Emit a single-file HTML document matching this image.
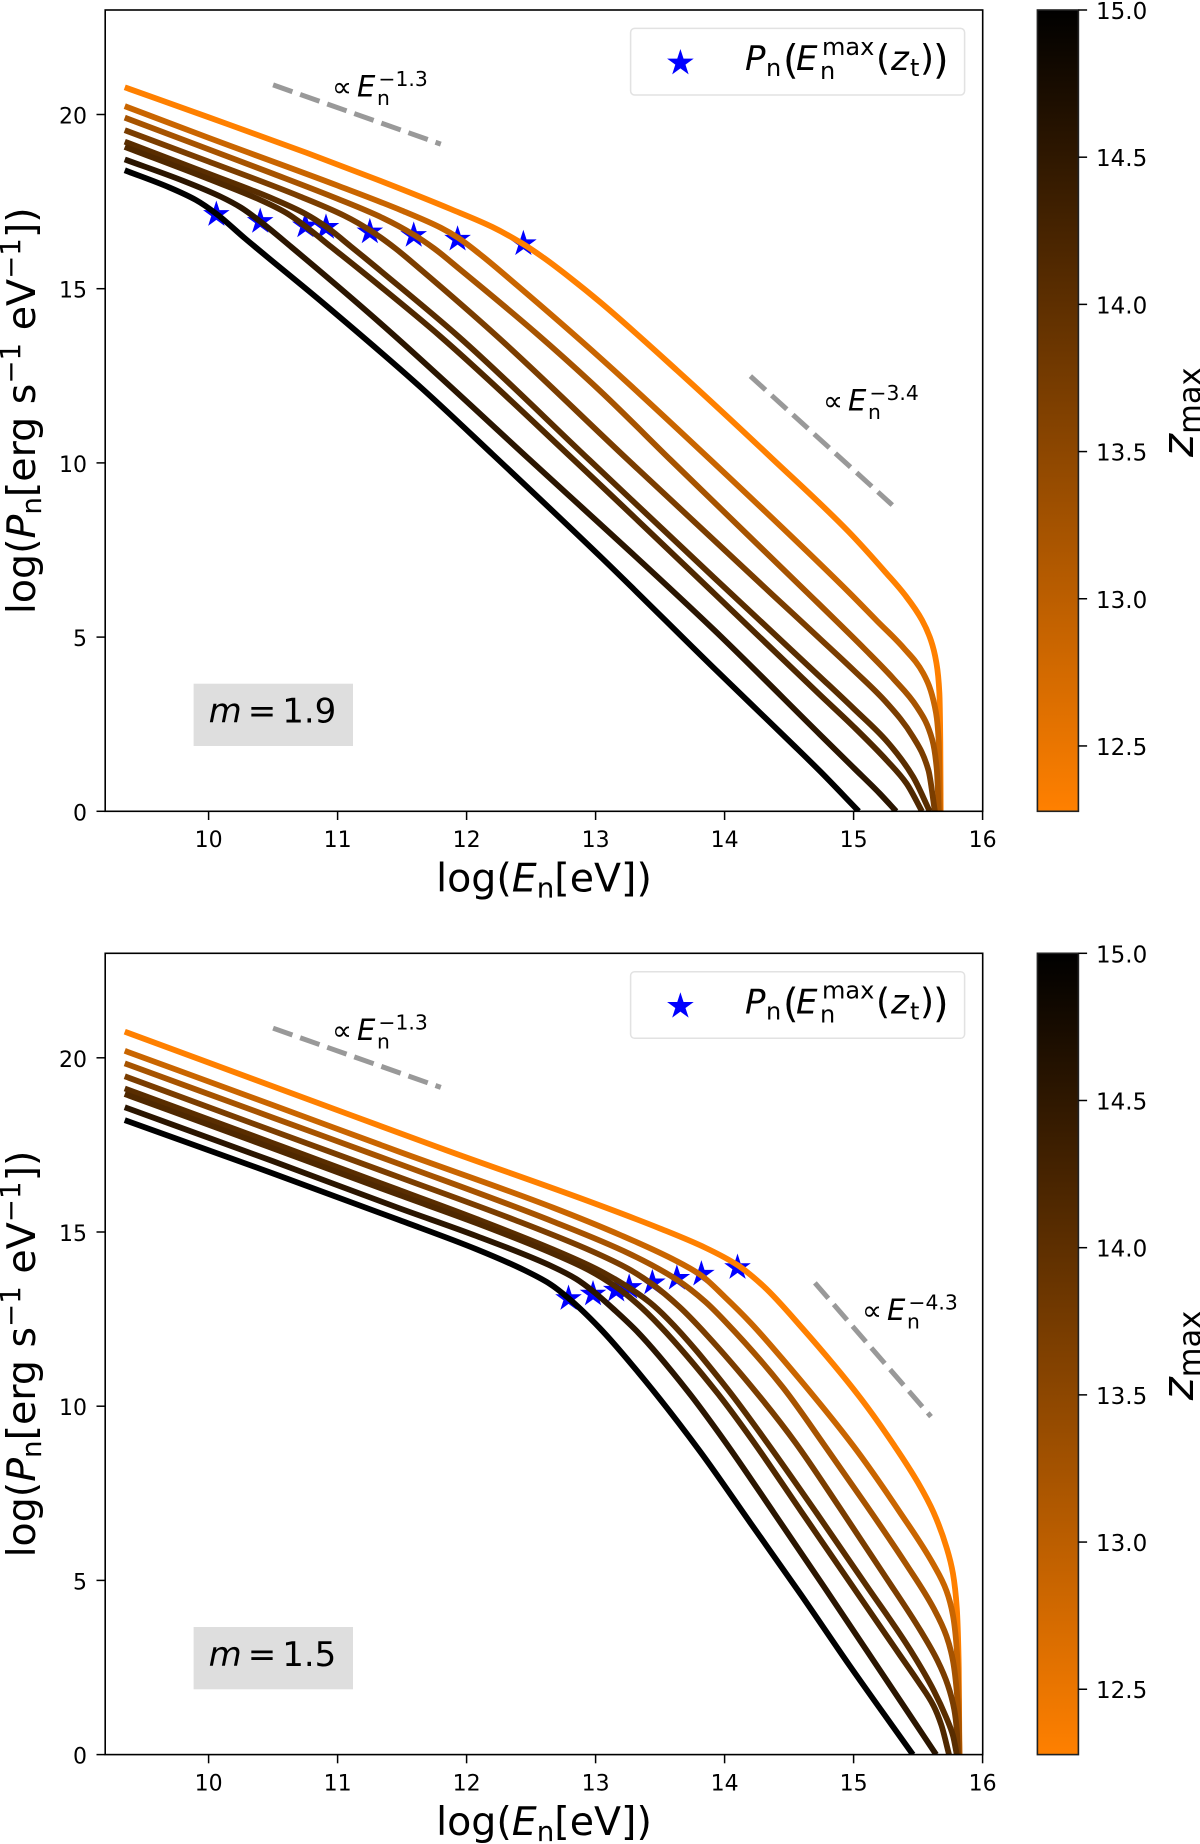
<!DOCTYPE html>
<html lang="en">
<head>
<meta charset="utf-8">
<title>Neutron power spectra for m = 1.9 and m = 1.5</title>
<style>
html,body{margin:0;padding:0;background:#fff;}
svg{display:block;}
text{font-family:"DejaVu Sans","Liberation Sans",sans-serif;fill:#000;}
.it{font-style:italic;}
</style>
</head>
<body>
<svg id="figure" xmlns="http://www.w3.org/2000/svg" width="1200" height="1844" viewBox="0 0 1200 1844">
  <defs>
    <linearGradient id="cbGradient" x1="0" y1="0" x2="0" y2="1">
      <stop offset="0" stop-color="#000000"/>
      <stop offset="1" stop-color="#ff8000"/>
    </linearGradient>
    <clipPath id="axesClip"><rect x="105.2" y="10" width="877.5" height="801.3"/></clipPath>
    <clipPath id="axesClip2"><rect x="105.2" y="953.3" width="877.5" height="801.3"/></clipPath>
  </defs>
  <rect width="1200" height="1844" fill="#fff"/>

  <g id="panelTop">
    <rect x="193.6" y="683.7" width="159.4" height="62.3" fill="#dedede"/>
    <text x="208.6" y="722.7" font-size="34"><tspan class="it">m</tspan><tspan dx="6">=</tspan><tspan dx="6">1.9</tspan></text>
    <text font-size="28"><tspan x="332" y="96.5">∝</tspan><tspan class="it" x="357" y="96.7" font-size="29">E</tspan><tspan x="378.5" y="86" font-size="20.3">−1.3</tspan><tspan x="377" y="105" font-size="20.3">n</tspan></text>
    <text font-size="28"><tspan x="823" y="410.5">∝</tspan><tspan class="it" x="848" y="410.7" font-size="29">E</tspan><tspan x="869.5" y="400" font-size="20.3">−3.4</tspan><tspan x="868" y="419" font-size="20.3">n</tspan></text>
    <text x="544" y="891.7" font-size="39.5" text-anchor="middle">log(<tspan class="it">E</tspan><tspan font-size="27.7" dy="6">n</tspan><tspan dy="-6">[eV])</tspan></text>
    <text transform="translate(35,410.7) rotate(-90)" font-size="39.5" text-anchor="middle">log(<tspan class="it">P</tspan><tspan font-size="27.7" dy="6">n</tspan><tspan dy="-6">[erg s</tspan><tspan font-size="27.7" dy="-15">−1</tspan><tspan dy="15"> eV</tspan><tspan font-size="27.7" dy="-15">−1</tspan><tspan dy="15">])</tspan></text>
    <text transform="translate(1193,457) rotate(-90)" font-size="44"><tspan class="it">z</tspan><tspan font-size="30.5" dy="7">max</tspan></text>
    <rect x="630.6" y="28.4" width="334" height="66.6" rx="4" ry="4" fill="#fff" stroke="#e2e2e2" stroke-width="1.5"/>
    <text font-size="34"><tspan class="it" x="745" y="70">P</tspan><tspan x="766" y="76" font-size="24">n</tspan><tspan x="783" y="73.5" font-size="40">(</tspan><tspan class="it" x="796" y="70">E</tspan><tspan x="822" y="55" font-size="24">max</tspan><tspan x="820" y="79" font-size="24">n</tspan><tspan x="876" y="70" font-size="36">(</tspan><tspan class="it" x="891" y="70">z</tspan><tspan x="910" y="76" font-size="24">t</tspan><tspan x="920" y="70" font-size="36">)</tspan><tspan x="933" y="73.5" font-size="40">)</tspan></text>
  </g>

  <g id="panelBottom">
    <g transform="translate(0,943.3)">
      <rect x="193.6" y="683.7" width="159.4" height="62.3" fill="#dedede"/>
      <text x="208.6" y="722.7" font-size="34"><tspan class="it">m</tspan><tspan dx="6">=</tspan><tspan dx="6">1.5</tspan></text>
      <text font-size="28"><tspan x="332" y="96.5">∝</tspan><tspan class="it" x="357" y="96.7" font-size="29">E</tspan><tspan x="378.5" y="86" font-size="20.3">−1.3</tspan><tspan x="377" y="105" font-size="20.3">n</tspan></text>
      <text font-size="28"><tspan x="862" y="376.5">∝</tspan><tspan class="it" x="887" y="376.7" font-size="29">E</tspan><tspan x="908.5" y="366" font-size="20.3">−4.3</tspan><tspan x="907" y="385" font-size="20.3">n</tspan></text>
      <text x="544" y="891.7" font-size="39.5" text-anchor="middle">log(<tspan class="it">E</tspan><tspan font-size="27.7" dy="6">n</tspan><tspan dy="-6">[eV])</tspan></text>
      <text transform="translate(35,410.7) rotate(-90)" font-size="39.5" text-anchor="middle">log(<tspan class="it">P</tspan><tspan font-size="27.7" dy="6">n</tspan><tspan dy="-6">[erg s</tspan><tspan font-size="27.7" dy="-15">−1</tspan><tspan dy="15"> eV</tspan><tspan font-size="27.7" dy="-15">−1</tspan><tspan dy="15">])</tspan></text>
      <text transform="translate(1193,457) rotate(-90)" font-size="44"><tspan class="it">z</tspan><tspan font-size="30.5" dy="7">max</tspan></text>
      <rect x="630.6" y="28.4" width="334" height="66.6" rx="4" ry="4" fill="#fff" stroke="#e2e2e2" stroke-width="1.5"/>
      <text font-size="34"><tspan class="it" x="745" y="70">P</tspan><tspan x="766" y="76" font-size="24">n</tspan><tspan x="783" y="73.5" font-size="40">(</tspan><tspan class="it" x="796" y="70">E</tspan><tspan x="822" y="55" font-size="24">max</tspan><tspan x="820" y="79" font-size="24">n</tspan><tspan x="876" y="70" font-size="36">(</tspan><tspan class="it" x="891" y="70">z</tspan><tspan x="910" y="76" font-size="24">t</tspan><tspan x="920" y="70" font-size="36">)</tspan><tspan x="933" y="73.5" font-size="40">)</tspan></text>
    </g>
  </g>
</svg>

<script>
// ---------- shared tick data ----------
const xTickValues = [10, 11, 12, 13, 14, 15, 16];
const xTickLabels = ["10", "11", "12", "13", "14", "15", "16"];
const yTickValues = [0, 5, 10, 15, 20];
const yTickLabels = ["0", "5", "10", "15", "20"];
const colorbarTickValues = [12.5, 13.0, 13.5, 14.0, 14.5, 15.0];
const colorbarTickLabels = ["12.5", "13.0", "13.5", "14.0", "14.5", "15.0"];
const zMaxValues = [12.28, 12.85, 13.23, 13.7, 14.05, 14.16, 14.55, 15.0];

// ---------- m = 1.9 series: [log E, log P] ----------
const m19Curve1 = [[9.35,20.78],[10,19.92],[10.76,18.9],[11.3,18.14],[11.88,17.28],[12.2,16.77],[12.43,16.3],[12.6,15.88],[12.8,15.32],[13.04,14.6],[13.63,12.66],[14.37,10.12],[14.96,8.03],[15.25,6.85],[15.4,6.2],[15.53,5.49],[15.6,4.9],[15.64,4.3],[15.665,3.4],[15.672,2.0],[15.675,0]];
const m19Curve2 = [[9.35,20.24],[10,19.33],[11,17.96],[11.5,17.24],[11.8,16.75],[11.93,16.47],[12.1,16.0],[12.39,15.1],[13.04,13.0],[13.89,10.09],[14.96,6.3],[15.18,5.47],[15.39,4.68],[15.54,3.96],[15.63,3.0],[15.66,2.0],[15.67,0]];
const m19Curve3 = [[9.35,19.91],[10,19.0],[10.5,18.3],[11,17.58],[11.35,17.03],[11.59,16.55],[11.75,16.15],[11.94,15.58],[12.54,13.72],[13.04,12.05],[13.58,10.09],[14.69,6.1],[14.87,5.45],[15.08,4.68],[15.31,3.8],[15.49,3.0],[15.61,2.05],[15.645,1.2],[15.66,0]];
const m19Curve4 = [[9.35,19.55],[10,18.65],[10.7,17.66],[11.05,17.1],[11.25,16.68],[11.45,16.15],[11.65,15.53],[12.24,13.62],[13.25,10.09],[14.37,6.22],[14.74,4.95],[15.0,4.05],[15.26,3.1],[15.46,2.14],[15.58,1.18],[15.63,0]];
const m19Curve5 = [[9.35,19.22],[10,18.3],[10.5,17.58],[10.75,17.15],[10.91,16.78],[11.1,16.22],[11.35,15.46],[11.94,13.62],[12.95,10.09],[13.92,6.7],[14.74,3.86],[15.0,2.95],[15.26,2.0],[15.46,1.0],[15.59,0]];
const m19Curve6 = [[9.35,19.07],[10,18.15],[10.4,17.55],[10.6,17.18],[10.74,16.82],[10.95,16.2],[11.17,15.55],[11.8,13.62],[12.83,10.09],[13.92,6.25],[14.74,3.34],[15.0,2.43],[15.26,1.45],[15.41,0.8],[15.53,0]];
const m19Curve7 = [[9.35,18.71],[9.8,18.1],[10.1,17.63],[10.25,17.33],[10.4,16.93],[10.64,16.2],[11.35,13.95],[12.49,10.09],[13.92,5.2],[14.74,2.2],[15.0,1.25],[15.2,0.52],[15.33,0]];
const m19Curve8 = [[9.35,18.4],[9.7,17.9],[9.9,17.55],[10.06,17.15],[10.28,16.45],[10.9,14.55],[11.65,12.15],[12.2,10.25],[13.04,7.3],[13.92,4.1],[14.52,1.95],[14.74,1.15],[15.04,0]];
const m19Curves = [m19Curve1, m19Curve2, m19Curve3, m19Curve4, m19Curve5, m19Curve6, m19Curve7, m19Curve8];
const m19StarE = [10.06, 10.4, 10.75, 10.91, 11.25, 11.59, 11.93, 12.44];
const m19StarP = [17.13, 16.93, 16.8, 16.76, 16.63, 16.53, 16.42, 16.29];
const m19SlopeLowE = [10.5, 11.8];
const m19SlopeLowP = [20.85, 19.15];
const m19SlopeHighE = [14.2, 15.3];
const m19SlopeHighP = [12.49, 8.79];

// ---------- m = 1.5 series ----------
const m15Curve1 = [[9.35,20.75],[11.07,18.4],[11.84,17.35],[12.97,15.85],[13.5,15.1],[13.85,14.55],[14.1,14.05],[14.3,13.45],[14.6,12.25],[15.05,10.25],[15.31,8.9],[15.5,7.8],[15.62,6.95],[15.72,5.95],[15.77,5.2],[15.8,4.2],[15.815,2.5],[15.82,0]];
const m15Curve2 = [[9.35,20.2],[10.5,18.64],[11.48,17.3],[12.67,15.7],[13.2,14.9],[13.62,14.18],[13.82,13.75],[14.0,13.14],[14.2,12.4],[14.45,11.35],[15.0,8.85],[15.36,6.95],[15.62,5.45],[15.72,4.7],[15.77,4.0],[15.8,3.0],[15.815,1.5],[15.82,0]];
const m15Curve3 = [[9.35,19.84],[10.5,18.28],[11.48,16.95],[12.67,15.3],[13.26,14.38],[13.63,13.63],[13.85,13.0],[14.0,12.45],[14.45,10.55],[14.77,8.9],[15.1,7.15],[15.41,5.45],[15.62,4.2],[15.72,3.4],[15.77,2.7],[15.8,1.8],[15.815,0.9],[15.82,0]];
const m15Curve4 = [[9.35,19.47],[10.5,17.9],[11.48,16.57],[12.37,15.35],[12.97,14.45],[13.25,13.95],[13.44,13.5],[13.65,12.85],[13.86,12.05],[14.3,10.15],[14.55,8.95],[14.89,7.1],[15.23,5.2],[15.52,3.55],[15.65,2.7],[15.73,2.0],[15.78,1.3],[15.8,0.7],[15.81,0]];
const m15Curve5 = [[9.35,19.12],[10.5,17.55],[11.48,16.2],[12.08,15.37],[12.67,14.5],[13.0,13.95],[13.26,13.4],[13.42,12.98],[13.56,12.5],[14.01,10.55],[14.33,8.95],[14.71,6.95],[15.1,4.85],[15.44,3.0],[15.62,1.85],[15.72,1.05],[15.77,0.55],[15.8,0]];
const m15Curve6 = [[9.35,18.96],[10.5,17.4],[11.48,16.06],[12.08,15.25],[12.67,14.38],[12.95,13.9],[13.16,13.42],[13.32,12.95],[13.5,12.3],[13.95,10.35],[14.21,9.05],[14.59,7.0],[14.97,4.95],[15.36,2.85],[15.5,2.1],[15.62,1.4],[15.68,0.85],[15.74,0]];
const m15Curve7 = [[9.35,18.58],[10.5,17.03],[11.48,15.68],[12.08,14.88],[12.67,14.0],[12.85,13.65],[12.98,13.3],[13.15,12.75],[13.32,12.15],[13.71,10.45],[14.0,9.0],[14.38,6.95],[14.77,4.82],[15.15,2.72],[15.46,1.0],[15.64,0]];
const m15Curve8 = [[9.35,18.21],[10.5,16.68],[11.48,15.34],[12.08,14.5],[12.45,13.9],[12.65,13.5],[12.79,13.1],[13.03,12.25],[13.38,10.75],[13.81,8.7],[14.2,6.65],[14.59,4.6],[14.97,2.55],[15.46,0]];
const m15Curves = [m15Curve1, m15Curve2, m15Curve3, m15Curve4, m15Curve5, m15Curve6, m15Curve7, m15Curve8];
const m15StarE = [12.79, 12.98, 13.16, 13.26, 13.44, 13.63, 13.82, 14.1];
const m15StarP = [13.09, 13.22, 13.33, 13.41, 13.54, 13.67, 13.79, 13.98];
const m15SlopeLowE = [10.5, 11.8];
const m15SlopeLowP = [20.85, 19.15];
const m15SlopeHighE = [14.7, 15.6];
const m15SlopeHighP = [13.54, 9.7];

// ---------- axis functions ----------
const NS = "http://www.w3.org/2000/svg";
const AXIS_LEFT = 105.2, AXIS_RIGHT = 982.7;
const CB_LEFT = 1037.4, CB_RIGHT = 1078.4;
const CB_MIN = 12.278, CB_MAX = 15.0;
function xScale(v) { return 208.6 + (v - 10) * 129; }
function yScale(v, bottom) { return bottom - v * 34.84; }
function cbScale(v, top) { return top + (CB_MAX - v) * (801.3 / (CB_MAX - CB_MIN)); }
function zColor(z) {
  const f = (CB_MAX - z) / (CB_MAX - CB_MIN);
  return "rgb(" + Math.round(255 * f) + "," + Math.round(128 * f) + ",0)";
}
function shape(tag, attrs) {
  const el = document.createElementNS(NS, tag);
  for (const k in attrs) el.setAttribute(k, attrs[k]);
  return el;
}
function smoothPath(pts) {
  const n = pts.length, sec = [], t = [];
  for (let i = 0; i < n - 1; i++) sec.push((pts[i + 1][1] - pts[i][1]) / (pts[i + 1][0] - pts[i][0]));
  t[0] = sec[0];
  t[n - 1] = sec[n - 2];
  for (let i = 1; i < n - 1; i++) {
    const h0 = pts[i][0] - pts[i - 1][0], h1 = pts[i + 1][0] - pts[i][0];
    t[i] = (h0 + h1) / ((h0 + 2 * h1) / (3 * sec[i - 1]) + (2 * h0 + h1) / (3 * sec[i]));
  }
  let d = "M" + pts[0][0].toFixed(2) + " " + pts[0][1].toFixed(2);
  for (let i = 0; i < n - 1; i++) {
    const h = (pts[i + 1][0] - pts[i][0]) / 3;
    d += "C" + (pts[i][0] + h).toFixed(2) + " " + (pts[i][1] + t[i] * h).toFixed(2) + " " +
      (pts[i + 1][0] - h).toFixed(2) + " " + (pts[i + 1][1] - t[i + 1] * h).toFixed(2) + " " +
      pts[i + 1][0].toFixed(2) + " " + pts[i + 1][1].toFixed(2);
  }
  return d;
}
function starPoints(cx, cy, R) {
  const out = [], r = R * 0.381966;
  for (let i = 0; i < 10; i++) {
    const a = -Math.PI / 2 + i * Math.PI / 5, q = i % 2 ? r : R;
    out.push((cx + q * Math.cos(a)).toFixed(2) + "," + (cy + q * Math.sin(a)).toFixed(2));
  }
  return out.join(" ");
}

function drawPanel(cfg) {
  const root = document.getElementById(cfg.groupId);
  const top = cfg.top, bottom = cfg.top + 801.3;

  // stars sit underneath the curves
  cfg.starE.forEach(function (e, i) {
    const star = shape("polygon", { points: starPoints(xScale(e), yScale(cfg.starP[i], bottom), 14), fill: "#0000ff" });
    
    
    root.appendChild(star);
  });

  // spectra, orange first and black last
  const curveGroup = shape("g", { "clip-path": "url(#" + cfg.clipId + ")" });
  
  
  root.appendChild(curveGroup);
  cfg.curves.forEach(function (curve, i) {
    const pts = curve.map(function (p) { return [xScale(p[0]), yScale(p[1], bottom)]; });
    const path = shape("path", { d: smoothPath(pts), fill: "none", stroke: zColor(zMaxValues[i]), "stroke-width": 5.8 });
    
    
    curveGroup.appendChild(path);
  });

  // reference slopes
  [[cfg.slopeLowE, cfg.slopeLowP], [cfg.slopeHighE, cfg.slopeHighP]].forEach(function (s) {
    const line = shape("line", {
      x1: xScale(s[0][0]), y1: yScale(s[1][0], bottom),
      x2: xScale(s[0][1]), y2: yScale(s[1][1], bottom),
      stroke: "#999999", "stroke-width": 5, "stroke-dasharray": "20.5 8.2"
    });
    
    
    root.appendChild(line);
  });

  // axes frame
  const frame = shape("rect", { x: AXIS_LEFT, y: top, width: AXIS_RIGHT - AXIS_LEFT, height: 801.3, fill: "none", stroke: "#000", "stroke-width": 1.6 });
  
  
  root.appendChild(frame);

  // x ticks
  xTickValues.forEach(function (v, i) {
    const x = xScale(v);
    const tick = shape("line", { x1: x, x2: x, y1: bottom, y2: bottom + 8.7, stroke: "#000", "stroke-width": 1.5 });
    
    
    root.appendChild(tick);
    const label = shape("text", { x: x, y: bottom + 35.7, "font-size": 22, "text-anchor": "middle" });
    
    
    label.textContent = xTickLabels[i];
    root.appendChild(label);
  });

  // y ticks
  yTickValues.forEach(function (v, i) {
    const y = yScale(v, bottom);
    const tick = shape("line", { x1: AXIS_LEFT - 8.7, x2: AXIS_LEFT, y1: y, y2: y, stroke: "#000", "stroke-width": 1.5 });
    
    
    root.appendChild(tick);
    const label = shape("text", { x: 87, y: y + 9, "font-size": 22, "text-anchor": "end" });
    
    
    label.textContent = yTickLabels[i];
    root.appendChild(label);
  });

  // legend marker
  const legendStar = shape("polygon", { points: starPoints(680.4, top + 53, 14), fill: "#0000ff" });
  
  
  root.appendChild(legendStar);

  // colorbar
  const bar = shape("rect", { x: CB_LEFT, y: top, width: CB_RIGHT - CB_LEFT, height: 801.3, fill: "url(#cbGradient)", stroke: "#222", "stroke-width": 1.6 });
  
  
  root.appendChild(bar);
  colorbarTickValues.forEach(function (v, i) {
    const y = cbScale(v, top);
    const tick = shape("line", { x1: CB_RIGHT, x2: CB_RIGHT + 8.7, y1: y, y2: y, stroke: "#000", "stroke-width": 1.5 });
    
    
    root.appendChild(tick);
    const label = shape("text", { x: 1096, y: y + 9, "font-size": 23 });
    
    
    label.textContent = colorbarTickLabels[i];
    root.appendChild(label);
  });
}

drawPanel({ groupId: "panelTop", clipId: "axesClip", top: 10, curves: m19Curves, starE: m19StarE, starP: m19StarP,
  slopeLowE: m19SlopeLowE, slopeLowP: m19SlopeLowP, slopeHighE: m19SlopeHighE, slopeHighP: m19SlopeHighP });
drawPanel({ groupId: "panelBottom", clipId: "axesClip2", top: 953.3, curves: m15Curves, starE: m15StarE, starP: m15StarP,
  slopeLowE: m15SlopeLowE, slopeLowP: m15SlopeLowP, slopeHighE: m15SlopeHighE, slopeHighP: m15SlopeHighP });
</script>
</body>
</html>
